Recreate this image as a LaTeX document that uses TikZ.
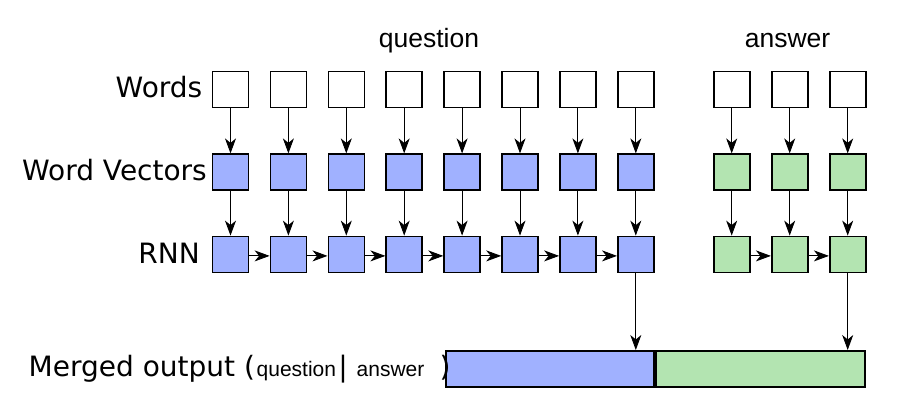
\documentclass[tikz,border=0pt]{standalone}
\usepackage{fontspec}
\setmainfont{DejaVu Sans}
\newfontfamily\arialf{Liberation Sans}
\usetikzlibrary{arrows.meta}
\definecolor{qblue}{RGB}{160,177,255}
\definecolor{agreen}{RGB}{179,228,177}
\begin{document}
\begin{tikzpicture}[x=1pt,y=-1pt,
  box/.style={draw, line width=1.6pt, minimum width=36pt, minimum height=36pt, inner sep=0pt},
  qbox/.style={box, fill=qblue},
  abox/.style={box, fill=agreen},
  arr/.style={-{Stealth[length=15pt,width=11pt,inset=4.5pt]}, line width=0.9pt},
  lbl/.style={inner sep=0pt, font=\fontsize{28}{34}\selectfont},
  toplbl/.style={inner sep=0pt, font=\arialf\fontsize{26.5}{32}\selectfont},
  smlbl/.style={inner sep=0pt, font=\arialf\fontsize{21}{25}\selectfont}]
\useasboundingbox (0,0) rectangle (900,420);

% question columns
\foreach \i in {1,...,8}{
  \pgfmathsetmacro\xx{230.5+57.9*(\i-1)}
  \node[box]  (qw\i) at (\xx,89.5) {};
  \node[qbox] (qv\i) at (\xx,172.2) {};
  \node[qbox] (qr\i) at (\xx,254.4) {};
  \draw[arr] (qw\i) -- (qv\i);
  \draw[arr] (qv\i) -- (qr\i);
}
\foreach \i [count=\j from 2] in {1,...,7}
  \draw[arr] ([yshift=-1.5pt]qr\i.east) -- ([yshift=-1.5pt]qr\j.west);

% answer columns
\foreach \i in {1,...,3}{
  \pgfmathsetmacro\xx{731.7+58*(\i-1)}
  \node[box]  (aw\i) at (\xx,89.5) {};
  \node[abox] (av\i) at (\xx,172.2) {};
  \node[abox] (ar\i) at (\xx,254.4) {};
  \draw[arr] (aw\i) -- (av\i);
  \draw[arr] (av\i) -- (ar\i);
}
\foreach \i [count=\j from 2] in {1,...,2}
  \draw[arr] ([yshift=-1.5pt]ar\i.east) -- ([yshift=-1.5pt]ar\j.west);

% merged bar
\node[draw, line width=1.6pt, fill=qblue, minimum width=208.4pt, minimum height=36.4pt, inner sep=0pt] (mq) at (550,369) {};
\node[draw, line width=1.6pt, fill=agreen, minimum width=209.4pt, minimum height=36.4pt, inner sep=0pt] (ma) at (760.5,369) {};
\draw[arr] (qr8.south) -- (qr8.south |- mq.north);
\draw[arr] (ar3.south) -- (ar3.south |- ma.north);

% labels
\node[lbl, anchor=base east] (lwords) at (202.5,97.7) {Words};
\node[lbl, anchor=base east] (lvec) at (207,180) {Word Vectors};
\node[lbl, anchor=base east] (lrnn) at (200,263.3) {RNN};
\node[toplbl, anchor=base] (tq) at (429,47.7) {question};
\node[toplbl, anchor=base] (ta) at (787.5,47.7) {answer};

\node[lbl, anchor=base west] (lmerged) at (28.5,376.7) {Merged output (};
\node[smlbl, anchor=base west] (lmq) at (256.5,376) {question};
\node[lbl, anchor=base] (lbar) at (343,376.7) {|};
\node[smlbl, anchor=base west] (lma) at (356.5,376) {answer};
\node[lbl, anchor=base west] (lclose) at (439.5,376.7) {)};
\end{tikzpicture}
\end{document}
